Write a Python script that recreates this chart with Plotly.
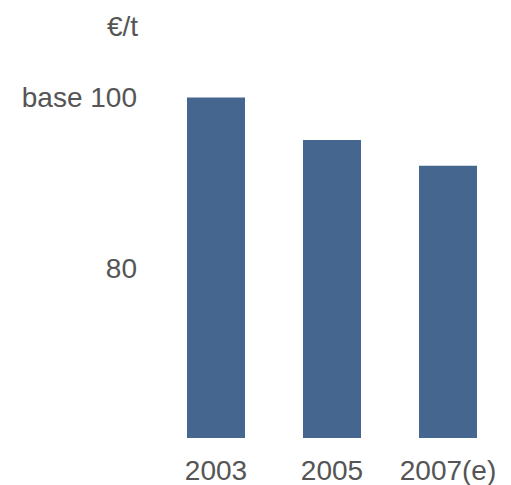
import plotly.graph_objects as go

categories = ["2003", "2005", "2007(e)"]
values = [100, 95, 92]
tick_vals = [80, 100]
tick_text = ["80", "base 100"]
unit_label = "€/t"

fig = go.Figure(go.Bar(x=categories, y=values, base=0, marker_color="#44668F",
                       marker_line_width=0, width=0.5))

fig.update_layout(
    width=503, height=477,
    margin=dict(l=150, r=4.5, t=47, b=47),
    paper_bgcolor="white", plot_bgcolor="white",
    font=dict(family="Liberation Sans, Arial, sans-serif", size=28, color="#555555"),
    showlegend=False,
    bargap=0.5,
)
fig.update_xaxes(showgrid=False, zeroline=False, showline=False, ticks="",
                 ticklabelstandoff=13, automargin=False)
fig.update_yaxes(range=[60, 105], tickvals=tick_vals, ticktext=tick_text,
                 showgrid=False, zeroline=False, showline=False, ticks="",
                 ticklabelstandoff=20, automargin=False)
fig.add_annotation(text=unit_label, xref="paper", yref="paper", x=-0.052, y=1.0757,
                   xanchor="right", yanchor="middle", showarrow=False,
                   font=dict(size=28, color="#555555"))

fig.write_html("out.html")
